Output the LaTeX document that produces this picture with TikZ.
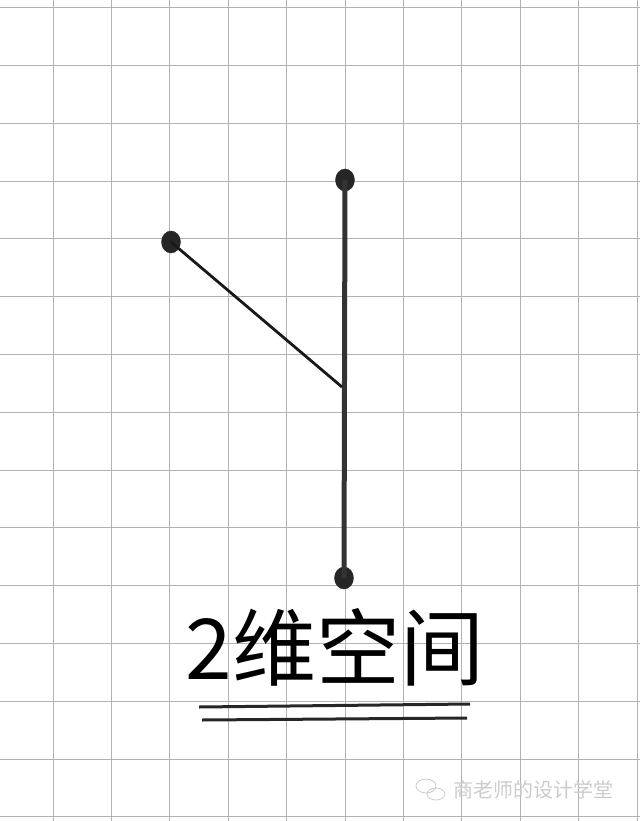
\documentclass[tikz,border=0pt]{standalone}
\usepackage{fontspec}
\newfontfamily\cjk{Noto Sans CJK SC}
\usepackage{tikz}
\usetikzlibrary{positioning,calc,shapes.geometric}

\tikzset{
  dot/.style={draw=black!85, fill=black!85, ellipse, inner sep=0pt, minimum width=19pt, minimum height=22pt},
  gridline/.style={gray!60, line width=0.7pt},
}

\begin{document}
\begin{tikzpicture}[x=1pt,y=-1pt]
  \fill[white] (0,0) rectangle (640,821);
  \useasboundingbox (0,0) rectangle (640,821);

  % grid paper
  \foreach \i in {0,...,10}
    \draw[gridline] (53+58.4*\i,0) -- (53+58.4*\i,821);
  \foreach \j in {0,...,14}
    \draw[gridline] (0,7.5+57.8*\j) -- (640,7.5+57.8*\j);

  \node(T)[dot] at (345,180) {};
  \node(L)[dot] at (171,242) {};
  \node(B)[dot] at (344,578) {};
  \coordinate(J) at (342,387);

  \draw[line width=5pt, black!80] (T.center) to (B.center);
  \draw[line width=2.8pt, black!90] (L.center) to (J);

  \node(title)[font=\cjk\fontsize{84}{96}\selectfont, anchor=center, inner sep=0pt] at (335,647) {2维空间};

  \draw[line width=3pt, black!85] (199,707) -- (470,704);
  \draw[line width=3pt, black!85] (202,720) -- (467,718);

  % watermark
  \node(wm)[font=\cjk\fontsize{20}{22}\selectfont, text=gray!40, anchor=west] at (450,790) {商老师的设计学堂};
  \draw[gray!40, line width=0.8pt] (426,786) ellipse (10 and 7);
  \draw[gray!40, line width=0.8pt] (436,794) ellipse (9 and 6);
\end{tikzpicture}
\end{document}
